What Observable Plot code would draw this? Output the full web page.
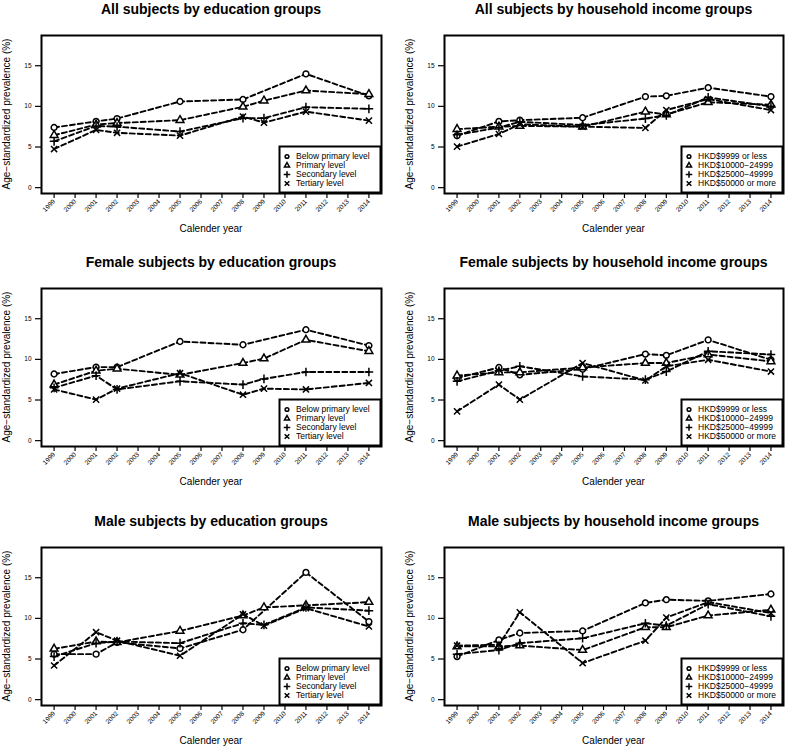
<!DOCTYPE html>
<html><head><meta charset="utf-8">
<script src="https://cdn.jsdelivr.net/npm/d3@7"></script>
<script src="https://cdn.jsdelivr.net/npm/@observablehq/plot@0.6"></script>
<style>
html,body{margin:0;padding:0;background:#fff;}
body{width:787px;height:747px;overflow:hidden;font-family:"Liberation Sans",Arial,Helvetica,sans-serif;color:#000;}
#root{position:relative;width:787px;height:747px;}
.abs{position:absolute;}
.title{font-weight:bold;font-size:14px;white-space:nowrap;transform:translate(-50%,-50%);}
.xlab{font-size:10px;white-space:nowrap;transform:translate(-50%,-50%);}
.ylab{font-size:10px;white-space:nowrap;transform:translate(-50%,-50%) rotate(-90deg);}
</style></head><body><div id="root"></div>
<script>
const years = [1999, 2001, 2002, 2005, 2008, 2009, 2011, 2014];
const tickYears = d3.range(1999, 2015);
const yTicks = [0, 5, 10, 15];
const eduGroups = ["Below primary level", "Primary level", "Secondary level", "Tertiary level"];
const incomeGroups = ["HKD$9999 or less", "HKD$10000−24999", "HKD$25000−49999", "HKD$50000 or more"];
const symbolNames = ["circle", "triangle", "plus", "times"];
const titles = [
  "All subjects by education groups", "All subjects by household income groups",
  "Female subjects by education groups", "Female subjects by household income groups",
  "Male subjects by education groups", "Male subjects by household income groups"
];
const xLabel = "Calender year";
const yLabel = "Age−standardized prevalence (%)";

// All subjects, education
const allEduBelow     = [7.4, 8.15, 8.5, 10.6, 10.85, null, 14.0, 11.3];
const allEduPrimary   = [6.45, 7.75, 7.95, 8.3, 9.95, 10.7, 11.95, 11.5];
const allEduSecondary = [5.7, 7.6, 7.5, 6.9, 8.55, 8.55, 9.9, 9.7];
const allEduTertiary  = [4.75, 7.1, 6.75, 6.4, 8.75, 8.0, 9.35, 8.25];
// All subjects, income
const allInc1 = [6.4, 8.15, 8.3, 8.6, 11.2, 11.3, 12.3, 11.2];
const allInc2 = [7.2, 7.5, 7.6, 7.5, 9.35, 9.0, 10.5, 10.2];
const allInc3 = [6.5, 7.4, 8.1, 7.7, 8.5, 8.9, 11.1, 10.0];
const allInc4 = [5.05, 6.6, 7.8, 7.5, 7.35, 9.55, 10.9, 9.55];
// Female, education
const femEduBelow     = [8.2, 9.05, 9.05, 12.2, 11.8, null, 13.65, 11.7];
const femEduPrimary   = [6.9, 8.6, 8.85, 8.1, 9.55, 10.1, 12.4, 11.0];
const femEduSecondary = [6.5, 8.0, 6.3, 7.3, 6.9, 7.6, 8.45, 8.45];
const femEduTertiary  = [6.3, 5.05, 6.4, 8.3, 5.65, 6.4, 6.3, 7.1];
// Female, income
const femInc1 = [7.7, 9.0, 8.1, 8.8, 10.65, 10.5, 12.4, 9.95];
const femInc2 = [8.0, 8.4, 8.4, 9.0, 9.55, 9.55, 10.6, 9.75];
const femInc3 = [7.3, 8.6, 9.15, 7.9, 7.5, 8.5, 11.0, 10.6];
const femInc4 = [3.6, 6.9, 5.05, 9.55, 7.4, 9.15, 9.95, 8.5];
// Male, education
const maleEduBelow     = [5.6, 5.6, 7.05, 6.3, 8.6, null, 15.65, 9.6];
const maleEduPrimary   = [6.25, 7.15, 7.05, 8.45, 10.35, 11.35, 11.6, 12.0];
const maleEduSecondary = [5.3, 6.95, 7.15, 6.95, 9.4, 9.2, 11.35, 10.95];
const maleEduTertiary  = [4.2, 8.3, 7.25, 5.4, 10.5, 9.1, 11.25, 9.0];
// Male, income
const maleInc1 = [5.3, 7.35, 8.2, 8.45, 11.9, 12.3, 12.15, 13.0];
const maleInc2 = [6.55, 6.55, 6.65, 6.1, 8.9, 8.9, 10.35, 11.05];
const maleInc3 = [5.6, 6.1, 6.95, 7.55, 9.4, 9.1, 11.75, 10.25];
const maleInc4 = [6.65, 6.75, 10.75, 4.5, 7.25, 10.1, 12.0, 10.65];

const panelSeries = [
  [eduGroups, [allEduBelow, allEduPrimary, allEduSecondary, allEduTertiary]],
  [incomeGroups, [allInc1, allInc2, allInc3, allInc4]],
  [eduGroups, [femEduBelow, femEduPrimary, femEduSecondary, femEduTertiary]],
  [incomeGroups, [femInc1, femInc2, femInc3, femInc4]],
  [eduGroups, [maleEduBelow, maleEduPrimary, maleEduSecondary, maleEduTertiary]],
  [incomeGroups, [maleInc1, maleInc2, maleInc3, maleInc4]]
];

// layout
const cols = [{left: 0, width: 393, ml: 41, mr: 12}, {left: 392, width: 395, ml: 52, mr: 4}];
const rowBoxTop = [35, 288, 547];
const boxH = 158, mt = 35, mb = 44;
const root = document.getElementById("root");
const font = '"Liberation Sans",Arial,Helvetica,sans-serif';

function addDiv(cls, text, x, y) {
  const d = document.createElement("div");
  d.className = "abs " + cls;
  d.textContent = text;
  d.style.left = x + "px";
  d.style.top = y + "px";
  root.appendChild(d);
}

function legend(groups, left, top) {
  const w = 102, h = 47;
  const svg = d3.create("svg").attr("width", w).attr("height", h)
    .style("position", "absolute").style("left", left + "px").style("top", top + "px")
    .style("overflow", "visible");
  svg.append("rect").attr("x", 0.5).attr("y", 0.5).attr("width", w - 1).attr("height", h - 1)
    .attr("fill", "white").attr("stroke", "black").attr("stroke-width", 2);
  const types = [d3.symbolCircle, d3.symbolTriangle, d3.symbolPlus, d3.symbolTimes];
  const sizes = [11, 11, 16, 16];
  groups.forEach((g, i) => {
    const cy = 10.5 + i * 9;
    svg.append("path").attr("transform", `translate(8,${cy})`)
      .attr("d", d3.symbol(types[i], sizes[i])())
      .attr("fill", "none").attr("stroke", "black").attr("stroke-width", 1.5);
    svg.append("text").attr("x", 17).attr("y", cy).attr("dy", "0.35em")
      .attr("font-size", 8.5).attr("font-family", font).text(g);
  });
  root.appendChild(svg.node());
}

panelSeries.forEach(([groups, series], p) => {
  const c = cols[p % 2];
  const boxTop = rowBoxTop[Math.floor(p / 2)];
  const top = boxTop - mt;
  const height = mt + boxH + mb;
  const data = [];
  series.forEach((vals, gi) => vals.forEach((v, yi) => {
    if (v != null) data.push({year: years[yi], value: v, group: groups[gi]});
  }));
  const chart = Plot.plot({
    width: c.width, height,
    marginLeft: c.ml, marginRight: c.mr, marginTop: mt, marginBottom: mb,
    style: {fontFamily: font, fontSize: "6.5px", background: "transparent", color: "black", overflow: "visible"},
    x: {domain: [1998.4, 2014.6]},
    y: {domain: [-0.72, 18.72]},
    symbol: {domain: groups, range: symbolNames},
    marks: [
      Plot.axisX({ticks: tickYears, tickFormat: d => String(d), tickRotate: -45, tickSize: 5, tickPadding: 2, label: null, strokeWidth: 1.2}),
      Plot.axisY({ticks: yTicks, tickSize: 6, tickPadding: 4, label: null, strokeWidth: 1.2}),
      Plot.line(data, {x: "year", y: "value", z: "group", stroke: "black", strokeWidth: 1.9, strokeDasharray: "5,3"}),
      Plot.dot(data, {x: "year", y: "value", symbol: "group", r: 2.9, stroke: "black", fill: "white", strokeWidth: 1.5}),
      Plot.frame({stroke: "black", strokeWidth: 2})
    ]
  });
  chart.style.position = "absolute";
  chart.style.left = c.left + "px";
  chart.style.top = top + "px";
  root.appendChild(chart);

  const boxLeft = c.left + c.ml;
  const boxRight = c.left + c.width - c.mr;
  const boxBottom = boxTop + boxH;
  addDiv("title", titles[p], (boxLeft + boxRight) / 2, boxTop - 26.5);
  addDiv("xlab", xLabel, (boxLeft + boxRight) / 2, boxBottom + 35);
  addDiv("ylab", yLabel, boxLeft - 35, boxTop + boxH / 2);
  legend(groups, boxRight - 102, boxBottom - 47);
});
</script></body></html>
